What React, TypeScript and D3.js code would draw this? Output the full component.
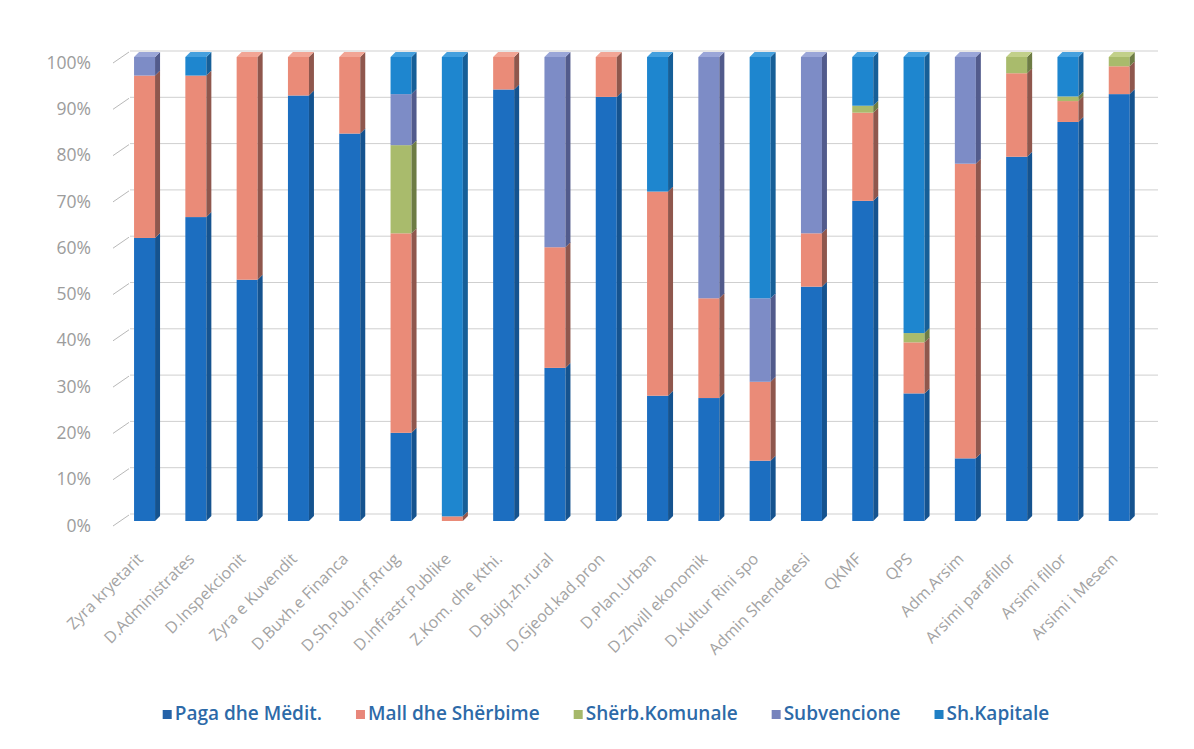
import React, { useEffect, useRef } from 'react';
import * as d3 from 'd3';

const categories = [
  'Zyra kryetarit',
  'D.Administrates',
  'D.Inspekcionit',
  'Zyra e Kuvendit',
  'D.Buxh.e Financa',
  'D.Sh.Pub.Inf.Rrug',
  'D.Infrastr.Publike',
  'Z.Kom. dhe Kthi.',
  'D.Bujq.zh.rural',
  'D.Gjeod.kad.pron',
  'D.Plan.Urban',
  'D.Zhvill ekonomik',
  'D.Kultur Rini spo',
  'Admin Shendetesi',
  'QKMF',
  'QPS',
  'Adm.Arsim',
  'Arsimi parafillor',
  'Arsimi fillor',
  'Arsimi i Mesem',
];

const seriesNames = ['Paga dhe Mëdit.', 'Mall dhe Shërbime', 'Shërb.Komunale', 'Subvencione', 'Sh.Kapitale'];

// shares in percent, one value per category
const paga = [61, 65.5, 52, 91.7, 83.5, 19, 0, 93, 33, 91.4, 27, 26.5, 13, 50.5, 69, 27.5, 13.5, 78.5, 86, 92];
const mall = [35, 30.5, 48, 8.3, 16.5, 43, 1, 7, 26, 8.6, 44, 21.5, 17, 11.5, 19, 11, 63.5, 18, 4.5, 6];
const komunale = [0, 0, 0, 0, 0, 19, 0, 0, 0, 0, 0, 0, 0, 0, 1.5, 2, 0, 3.5, 1, 2];
const subvencione = [4, 0, 0, 0, 0, 11, 0, 0, 41, 0, 0, 52, 18, 38, 0, 0, 23, 0, 0, 0];
const kapitale = [0, 4, 0, 0, 0, 8, 99, 0, 0, 0, 29, 0, 52, 0, 10.5, 59.5, 0, 0, 8.5, 0];

const yTicks = [0, 10, 20, 30, 40, 50, 60, 70, 80, 90, 100];

const faces = [
  { front: '#1c6ec0', side: '#15538f', top: '#3a86cc', legend: '#2462a8' },
  { front: '#ea8b78', side: '#8f574d', top: '#f2a595', legend: '#e8867a' },
  { front: '#a9bb6c', side: '#6d7c44', top: '#c2d08a', legend: '#a6b86a' },
  { front: '#7d8cc6', side: '#525b8c', top: '#9aa6d8', legend: '#7683bd' },
  { front: '#1e86cf', side: '#165f98', top: '#45a0de', legend: '#1f7fc4' },
];

export default function App() {
  const ref = useRef<SVGSVGElement>(null);

  useEffect(() => {
    const width = 1194;
    const height = 749;
    const svg = d3.select(ref.current).attr('width', width).attr('height', height);
    svg.selectAll('*').remove();

    const values = [paga, mall, komunale, subvencione, kapitale];
    const rows = categories.map((c, i) => {
      const r: any = { cat: c };
      values.forEach((v, k) => (r[k] = v[i]));
      return r;
    });
    const stack = d3.stack<any>().keys(d3.range(values.length) as any);
    const layers = stack(rows);

    const x = d3.scaleBand().domain(categories).range([121.4, 1147.4]);
    const yFront = d3.scaleLinear().domain([0, 100]).range([521, 57]);
    const yGrid = d3.scaleLinear().domain([0, 100]).range([514, 51]);
    const dx = 5;
    const dy = 5;
    const cx = (c: string) => (x(c) as number) + x.bandwidth() / 2;

    // gridlines on the back wall
    const grid = svg.append('g');
    yTicks.forEach((t) => {
      grid
        .append('line')
        .attr('x1', 130)
        .attr('x2', 1158)
        .attr('y1', yGrid(t))
        .attr('y2', yGrid(t))
        .attr('stroke', '#cfcfcf')
        .attr('stroke-width', 1);
      grid
        .append('line')
        .attr('x1', 113)
        .attr('x2', 129)
        .attr('y1', yGrid(t) + 12)
        .attr('y2', yGrid(t) + 1)
        .attr('stroke', '#b8b8b8')
        .attr('stroke-width', 1);
      grid
        .append('text')
        .attr('x', 91)
        .attr('y', yGrid(t) + 13)
        .attr('text-anchor', 'end')
        .attr('dominant-baseline', 'middle')
        .attr('font-family', 'Open Sans')
        .attr('font-size', 17.5)
        .attr('fill', '#9c9c9c')
        .text(t + '%');
    });

    // 3d bars
    const bars = svg.append('g');
    categories.forEach((c, i) => {
      const x0 = cx(c) - 13;
      const x1 = x0 + 21;
      let topIdx = -1;
      layers.forEach((layer, k) => {
        const [a, b] = layer[i];
        if (b - a <= 0) return;
        topIdx = k;
        const yb = yFront(a);
        const yt = yFront(b);
        bars
          .append('rect')
          .attr('x', x0)
          .attr('y', yt)
          .attr('width', x1 - x0)
          .attr('height', yb - yt)
          .attr('fill', faces[k].front);
        bars
          .append('path')
          .attr('d', `M${x1},${yb}L${x1 + dx},${yb - dy}L${x1 + dx},${yt - dy}L${x1},${yt}Z`)
          .attr('fill', faces[k].side);
      });
      if (topIdx >= 0) {
        const yt = yFront(100);
        bars
          .append('path')
          .attr('d', `M${x0},${yt}L${x0 + dx},${yt - dy}L${x1 + dx},${yt - dy}L${x1},${yt}Z`)
          .attr('fill', faces[topIdx].top);
      }
    });

    // category labels
    svg
      .append('g')
      .selectAll('text')
      .data(categories)
      .join('text')
      .attr('transform', (d) => `translate(${cx(d) - 3},560) rotate(-45)`)
      .attr('text-anchor', 'end')
      .attr('font-family', 'Open Sans')
      .attr('font-size', 16)
      .attr('fill', '#a3a3a3')
      .text((d) => d);

    // legend
    const legend = svg.append('g');
    const items = seriesNames.map((name, k) => {
      const g = legend.append('g');
      g.append('rect').attr('x', 0).attr('y', -4).attr('width', 9).attr('height', 9).attr('fill', faces[k].legend);
      const t = g
        .append('text')
        .attr('x', 12)
        .attr('y', 1)
        .attr('dominant-baseline', 'middle')
        .attr('font-family', 'Open Sans')
        .attr('font-weight', 600)
        .attr('font-size', 19)
        .attr('fill', '#2d6aa8')
        .text(name);
      const w = 12 + (t.node() as SVGTextElement).getComputedTextLength();
      return { g, w };
    });
    const gap = 34;
    const total = d3.sum(items, (d) => d.w) + gap * (items.length - 1);
    let pos = 606 - total / 2;
    items.forEach((it) => {
      it.g.attr('transform', `translate(${pos},714)`);
      pos += it.w + gap;
    });
  }, []);

  return (
    <svg ref={ref} style={{ position: 'absolute', left: 0, top: 0, background: '#fff' }}></svg>
  );
}
